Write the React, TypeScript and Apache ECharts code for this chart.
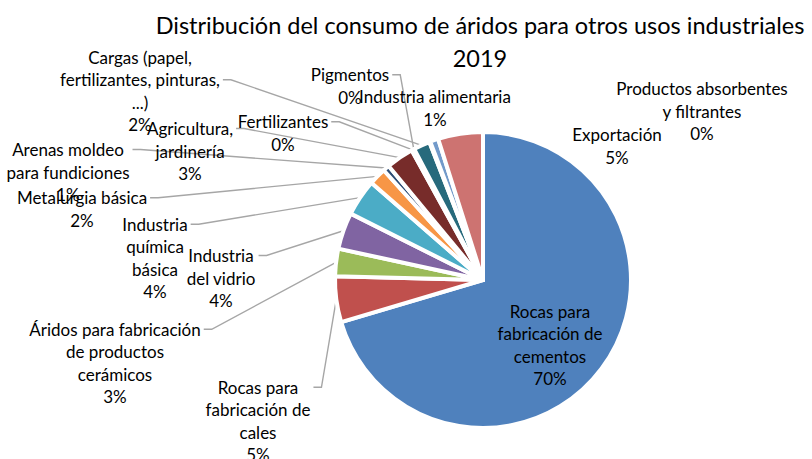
import React, { useEffect, useRef } from 'react';
import * as echarts from 'echarts';

const titleText = 'Distribución del consumo de áridos para otros usos industriales\n2019';

const categories = [
  'Rocas para fabricación de cementos',
  'Rocas para fabricación de cales',
  'Áridos para fabricación de productos cerámicos',
  'Industria del vidrio',
  'Industria química básica',
  'Metalurgia básica',
  'Arenas moldeo para fundiciones',
  'Agricultura, jardinería',
  'Fertilizantes',
  'Pigmentos',
  'Cargas (papel, fertilizantes, pinturas, ...)',
  'Productos absorbentes y filtrantes',
  'Industria alimentaria',
  'Exportación',
];

const values = [70.4, 5.0, 3.0, 4.0, 4.0, 1.9, 0.7, 3.0, 0.2, 0.1, 1.8, 0.1, 0.9, 4.9];

const wrappedNames = [
  'Rocas para\nfabricación de\ncementos',
  'Rocas para\nfabricación de\ncales',
  'Áridos para fabricación\nde productos\ncerámicos',
  'Industria\ndel vidrio',
  'Industria\nquímica\nbásica',
  'Metalurgia básica',
  'Arenas moldeo\npara fundiciones',
  'Agricultura,\njardinería',
  'Fertilizantes',
  'Pigmentos',
  'Cargas (papel,\nfertilizantes, pinturas,\n...)',
  'Productos absorbentes\ny filtrantes',
  'Industria alimentaria',
  'Exportación',
];

const colors = [
  '#4F81BD', '#C0504D', '#9BBB59', '#8064A2', '#4BACC6', '#F79646', '#2C4D75',
  '#772C2A', '#5F7530', '#4D3B62', '#276A7C', '#B65708', '#729ACA', '#CD7371',
];

// label block centres (layout only)
const labelCenters: [number, number][] = [
  [550, 345],
  [258, 421],
  [115, 363],
  [221, 278],
  [155, 258],
  [82, 209],
  [68, 172],
  [190, 151],
  [283, 133],
  [350, 86],
  [140, 91],
  [702, 111],
  [435, 108],
  [617, 146],
];
const showLeader = [false, true, true, true, true, true, true, true, true, true, true, false, false, false];
const anchorLine = [0, 0, 0, 0, 0, 0, 0, 0, 0, 0, 1, 0, 0, 0];

const FONT = 'Lato, "Noto Sans", sans-serif';
const LINE_H = 22.5;
const CENTER: [number, number] = [483, 280];
const RADIUS = 148;

export default function App() {
  const ref = useRef<HTMLDivElement>(null);
  useEffect(() => {
    const chart = echarts.init(ref.current as HTMLDivElement, null, { renderer: 'svg' });
    const data = categories.map((name, i) => ({
      name,
      value: values[i],
      itemStyle: { color: colors[i] },
      labelLine: { show: showLeader[i] },
    }));
    chart.setOption({
      animation: false,
      backgroundColor: '#ffffff',
      graphic: [
        {
          type: 'text',
          x: 480,
          y: 8,
          style: {
            text: titleText,
            align: 'center',
            verticalAlign: 'top',
            fontFamily: FONT,
            fontSize: 23.5,
            lineHeight: 33,
            fill: '#000000',
          },
        },
      ],
      series: [
        {
          type: 'pie',
          center: CENTER,
          radius: RADIUS,
          startAngle: 90,
          clockwise: true,
          silent: true,
          avoidLabelOverlap: false,
          emphasis: { disabled: true },
          itemStyle: { borderColor: '#ffffff', borderWidth: 4 },
          label: {
            show: true,
            formatter: (p: any) => wrappedNames[p.dataIndex] + '\n' + Math.round(p.percent) + '%',
            fontFamily: FONT,
            fontSize: 17,
            lineHeight: LINE_H,
            color: '#000000',
            align: 'center',
          },
          labelLine: {
            show: true,
            length: 10,
            length2: 8,
            lineStyle: { color: '#A6A6A6', width: 1.4 },
          },
          labelLayout: (params: any) => {
            const i = params.dataIndex;
            const [cx, cy] = labelCenters[i];
            const w = params.labelRect.width;
            const h = params.labelRect.height;
            const out: any = { x: cx, y: cy, align: 'center', verticalAlign: 'middle' };
            if (showLeader[i] && params.labelLinePoints) {
              const top = cy - h / 2;
              const ay = top + LINE_H * (anchorLine[i] + 0.5);
              const ax = cx + w / 2 + 3;
              const p0 = params.labelLinePoints[0];
              out.labelLinePoints = [
                [p0[0], p0[1]],
                [ax + 8, ay],
                [ax, ay],
              ];
            }
            return out;
          },
          data,
        },
      ],
    });
    return () => chart.dispose();
  }, []);
  return (
    <div
      ref={ref}
      style={{ position: 'fixed', left: 0, top: 0, width: 812, height: 459, background: '#fff' }}
    />
  );
}
